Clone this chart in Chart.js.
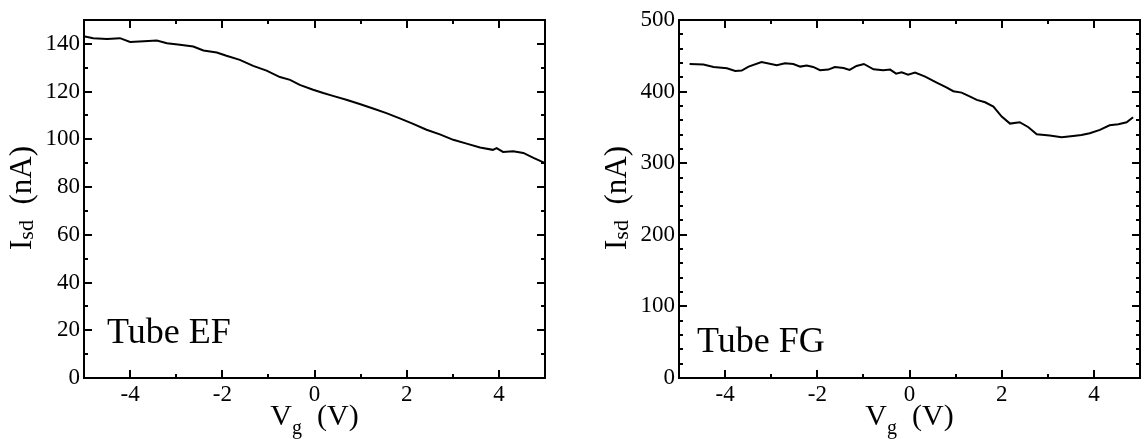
<!DOCTYPE html>
<html>
<head>
<meta charset="utf-8">
<script src="https://cdn.jsdelivr.net/npm/chart.js@4.4.1/dist/chart.umd.min.js"></script>
<style>
  html, body { margin: 0; padding: 0; background: #fff; }
  #wrap { position: relative; width: 1145px; height: 439px; }
  .box { position: absolute; top: 0; height: 439px; }
</style>
</head>
<body>
<div id="wrap">
  <div class="box" style="left:0;width:572px"><canvas id="tubeEF"></canvas></div>
  <div class="box" style="left:572px;width:573px"><canvas id="tubeFG"></canvas></div>
</div>
<script>
// Tube EF: gate voltage (V) vs source-drain current (nA)
const efVg = [-4.98, -4.8, -4.5, -4.22, -4.0, -3.7, -3.42, -3.2, -2.92, -2.63, -2.41, -2.12, -1.91, -1.62,
  -1.33, -1.04, -0.75, -0.53, -0.32, -0.03, 0.19, 0.4, 0.69, 0.98, 1.27, 1.56, 1.85, 2.14, 2.43, 2.72,
  3.01, 3.3, 3.59, 3.87, 3.95, 4.09, 4.31, 4.53, 4.75, 4.99];
const efIsd = [143.1, 142.4, 142.0, 142.4, 140.8, 141.1, 141.4, 140.3, 139.6, 138.9, 137.2, 136.4, 135.0, 133.3,
  130.8, 128.8, 126.1, 124.9, 122.8, 120.8, 119.4, 118.2, 116.6, 114.8, 112.9, 111.0, 108.8, 106.5, 104.0, 102.1,
  99.8, 98.2, 96.6, 95.6, 96.3, 94.7, 95.0, 94.3, 92.2, 90.1];

// Tube FG
const fgVg = [-4.77, -4.47, -4.25, -3.96, -3.78, -3.64, -3.49, -3.21, -2.88, -2.7, -2.52, -2.37, -2.23, -2.09,
  -1.94, -1.76, -1.62, -1.43, -1.3, -1.15, -0.99, -0.78, -0.57, -0.42, -0.29, -0.17, -0.03, 0.12, 0.34, 0.59,
  0.8, 0.95, 1.13, 1.27, 1.46, 1.64, 1.82, 2.0, 2.18, 2.39, 2.58, 2.76, 3.04, 3.3, 3.55, 3.73, 3.91, 4.13,
  4.34, 4.53, 4.71, 4.85];
const fgIsd = [438.6, 437.7, 434.4, 432.6, 428.8, 429.3, 434.9, 441.4, 436.7, 439.5, 438.6, 434.9, 436.3, 434.4,
  429.8, 430.7, 434.4, 433.0, 430.2, 435.8, 438.6, 431.2, 429.8, 430.7, 425.1, 427.0, 423.7, 426.5, 420.9, 412.6,
  406.0, 400.5, 398.6, 394.4, 388.4, 385.1, 379.1, 365.1, 355.3, 357.2, 350.2, 340.5, 338.6, 336.3, 338.1, 339.5,
  341.9, 346.5, 353.0, 354.4, 357.2, 364.2];

const vgTicks = [-4, -2, 0, 2, 4];
const efTicks = [0, 20, 40, 60, 80, 100, 120, 140];
const fgTicks = [0, 100, 200, 300, 400, 500];

const serif = "'Liberation Serif', 'Times New Roman', serif";
Chart.defaults.font.family = serif;
Chart.defaults.color = '#000';

// draw a label made of pieces (for subscripts); rotate = y axis title
function drawParts(ctx, parts, px, py, rotate) {
  ctx.save();
  ctx.translate(px, py);
  if (rotate) ctx.rotate(-Math.PI / 2);
  let total = 0;
  parts.forEach(p => {
    ctx.font = p.size + 'px ' + serif;
    p.w = ctx.measureText(p.text).width;
    total += p.w;
  });
  let x = -total / 2;
  ctx.textAlign = 'left';
  ctx.textBaseline = 'alphabetic';
  ctx.fillStyle = '#000';
  parts.forEach(p => {
    ctx.font = p.size + 'px ' + serif;
    ctx.fillText(p.text, x, p.dy || 0);
    x += p.w;
  });
  ctx.restore();
}

// box frame, inward ticks on all four sides, axis titles and the tube label
const framePlugin = {
  id: 'frame',
  afterDraw(chart, args, o) {
    const { ctx, chartArea: a, scales: { x, y } } = chart;
    ctx.save();
    ctx.strokeStyle = '#000';
    ctx.lineWidth = 2;
    ctx.strokeRect(a.left, a.top, a.right - a.left, a.bottom - a.top);

    ctx.beginPath();
    for (let v = x.min + o.xMinor; v < x.max - 1e-9; v += o.xMinor) {
      const px = Math.round(x.getPixelForValue(v));
      const len = vgTicks.includes(v) ? 8 : 4;
      ctx.moveTo(px, a.bottom); ctx.lineTo(px, a.bottom - len);
      ctx.moveTo(px, a.top); ctx.lineTo(px, a.top + len);
    }
    for (let v = y.min + o.yMinor; v < y.max - 1e-9; v += o.yMinor) {
      const py = Math.round(y.getPixelForValue(v));
      const len = o.yMajor.includes(v) ? 8 : 4;
      ctx.moveTo(a.left, py); ctx.lineTo(a.left + len, py);
      ctx.moveTo(a.right, py); ctx.lineTo(a.right - len, py);
    }
    ctx.stroke();
    ctx.restore();

    const cx = (a.left + a.right) / 2;
    const cy = (a.top + a.bottom) / 2;
    drawParts(ctx, [
      { text: 'V', size: 30 },
      { text: 'g', size: 20, dy: 9 },
      { text: '  (V)', size: 30 }
    ], cx, 425, false);
    drawParts(ctx, [
      { text: 'I', size: 31 },
      { text: 'sd', size: 22, dy: 2 },
      { text: '  (nA)', size: 31 }
    ], a.left - 53, cy - 1, true);

    ctx.save();
    ctx.font = '36px ' + serif;
    ctx.fillStyle = '#000';
    ctx.textAlign = 'left';
    ctx.textBaseline = 'alphabetic';
    ctx.fillText(o.label, a.left + o.labelDx, a.bottom - o.labelDy);
    ctx.restore();
  }
};

function makeChart(id, xs, ys, yMax, yTicks, opts) {
  return new Chart(document.getElementById(id), {
    type: 'scatter',
    data: {
      datasets: [{
        data: xs.map((v, i) => ({ x: v, y: ys[i] })),
        showLine: true,
        borderColor: '#000',
        borderWidth: 2,
        pointRadius: 0,
        tension: 0,
        fill: false
      }]
    },
    options: {
      responsive: true,
      maintainAspectRatio: false,
      animation: false,
      layout: { padding: { top: 20, right: opts.padRight, left: 0, bottom: 0 } },
      plugins: {
        legend: { display: false },
        tooltip: { enabled: false },
        frame: opts.frame
      },
      scales: {
        x: {
          type: 'linear',
          min: -5,
          max: 5,
          grid: { display: false, drawTicks: false },
          border: { display: false },
          afterBuildTicks: s => { s.ticks = vgTicks.map(v => ({ value: v })); },
          afterFit: s => { s.height = 61; },
          ticks: { font: { size: 23 }, color: '#000', padding: 3, autoSkip: false, maxRotation: 0 }
        },
        y: {
          type: 'linear',
          min: 0,
          max: yMax,
          grid: { display: false, drawTicks: false },
          border: { display: false },
          afterBuildTicks: s => { s.ticks = yTicks.map(v => ({ value: v })); },
          afterFit: s => { s.width = opts.yWidth; },
          ticks: { font: { size: 23 }, color: '#000', padding: 4, autoSkip: false }
        }
      }
    },
    plugins: [framePlugin]
  });
}

makeChart('tubeEF', efVg, efIsd, 150, efTicks, {
  padRight: 27, yWidth: 84,
  frame: { xMinor: 1, yMinor: 10, yMajor: efTicks, label: 'Tube EF', labelDx: 23, labelDy: 35 }
});
makeChart('tubeFG', fgVg, fgIsd, 500, fgTicks, {
  padRight: 5, yWidth: 107,
  frame: { xMinor: 1, yMinor: 20, yMajor: fgTicks, label: 'Tube FG', labelDx: 18, labelDy: 26 }
});
</script>
</body>
</html>
